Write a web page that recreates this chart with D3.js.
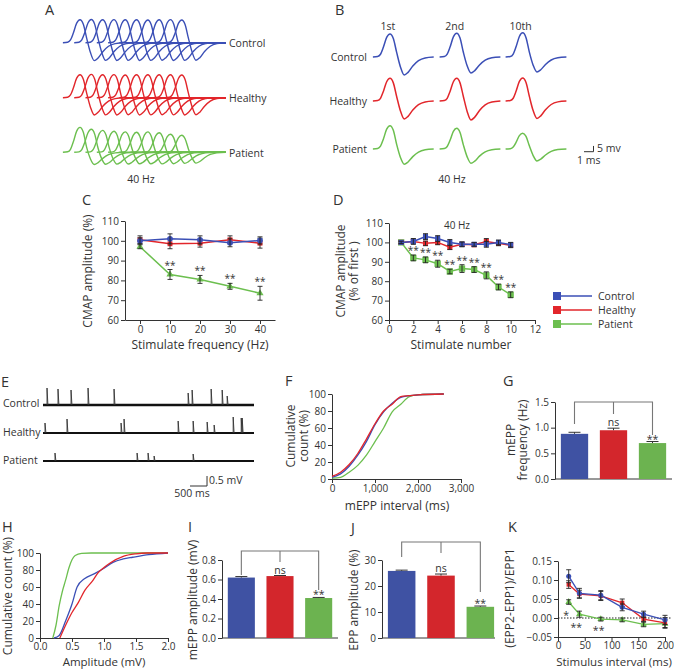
<!DOCTYPE html>
<html><head><meta charset="utf-8">
<script src="https://cdn.jsdelivr.net/npm/d3@7/dist/d3.min.js"></script>
<style>
html,body{margin:0;padding:0;background:#fff}
svg text{font-family:"Open Sans",Arial,sans-serif;fill:#333}
</style></head><body>
<svg id="fig" width="674" height="670" xmlns="http://www.w3.org/2000/svg"></svg>
<script>
// ================= DATA =================
const groups = ["Control","Healthy","Patient"];

// A: peak / trough (mV) of the 10 CMAPs of a 40 Hz train
const aPeakControl   = [20.0,20.2,20.0,20.1,19.9,20.0,19.8,20.0,20.1,19.8];
const aPeakHealthy   = [20.0,20.3,20.0,20.1,19.8,20.0,19.9,20.0,20.0,19.7];
const aPeakPatient   = [21.7,20.0,19.1,18.3,17.8,17.4,17.8,17.0,15.7,14.8];
const aTroughControl = [15.6,15.4,15.5,15.4,15.5,15.4,15.3,15.5,15.4,15.3];
const aTroughHealthy = [15.0,14.9,15.0,14.8,15.0,14.9,14.8,14.9,15.0,14.8];
const aTroughPatient = [10.6,10.4,10.3,10.2,10.0,10.0,10.1,9.9,9.6,9.4];

// B: 1st, 2nd and 10th responses (mV)
const bLabels = ["1st","2nd","10th"];
const bPeakControl   = [20.0,20.6,21.0];
const bPeakHealthy   = [19.7,19.7,20.0];
const bPeakPatient   = [20.3,18.0,13.7];
const bTroughControl = [15.7,13.9,13.0];
const bTroughHealthy = [15.7,16.5,15.2];
const bTroughPatient = [13.3,12.4,10.4];

// CMAP waveform template (time in ms, normalised amplitude)
const cmapT = [-1.8,-1.3,-1.0,-0.7,-0.35,0,0.35,0.7,1.1,1.5,1.9,2.4,3.0,3.7,4.6];
const cmapV = [0,0.02,0.12,0.42,0.85,1,0.8,0.2,-0.55,-1,-0.85,-0.5,-0.2,-0.05,0];

// C: CMAP amplitude vs stimulation frequency
const cFreq = [0,10,20,30,40];
const cControl = [100,101,100.5,99,100.2], cControlErr = [1.5,2.5,2,2,1.8];
const cHealthy = [100.5,98.5,98.8,100.5,98.8], cHealthyErr = [2,2.5,2,2,2.5];
const cPatient = [97,83,80.5,77,73.5], cPatientErr = [1,2.5,2,1.5,3.5];
const cStars = [10,20,30,40];

// D: CMAP amplitude vs stimulus number (40 Hz)
const dNum = [1,2,3,4,5,6,7,8,9,10];
const dControl = [100,100.5,103,102,100,99,99,99,100,98.8];
const dControlErr = [0.6,1.5,1.5,1.5,1.5,1.2,1,1.5,1.2,1.2];
const dHealthy = [100,100.5,99.5,100,97.5,99,98.8,100.5,99.5,98.5];
const dHealthyErr = [0.6,1.2,1.2,1.2,1.2,1.2,1,1.5,1.2,1.2];
const dPatient = [100,92,91,89,85,86.5,86,83,77,73];
const dPatientErr = [0.6,1.5,1.5,1.8,1.2,2,1.5,1.8,1.5,1.5];
const dStars = [2,3,4,5,6,7,8,9,10];

// E: mEPP recordings (spike time ms, amplitude mV)
const eControlT = [118,441,824,1324,2088,4265,4382,4941,5265,5412];
const eControlA = [0.85,0.8,0.75,0.85,0.8,0.6,0.75,0.8,0.75,0.45];
const eHealthyT = [59,706,2294,2382,3971,4412,4824,5029,5588,5824,5853];
const eHealthyA = [0.5,0.7,0.5,0.7,0.6,0.6,0.55,0.4,0.8,0.75,0.75];
const ePatientT = [353,2765,3088,3265,4412];
const ePatientA = [0.4,0.4,0.4,0.25,0.35];

// F: cumulative mEPP interval
const fInterval = [0,200,400,600,800,1000,1200,1400,1600,1800,2000,2600];
const fControl  = [2,6,15,28,44,64,79,89,96,98,99,100];
const fHealthy  = [3,8,17,30,47,65,80,88,97,98,99,100];
const fPatient  = [1,2,8,16,28,44,60,79,88,97,99,100];

// G: mEPP frequency (Hz)
const gMean = [0.88,0.95,0.70], gErr = [0.03,0.04,0.03];
const gSig = ["","ns","**"];

// H: cumulative mEPP amplitude
const hControlX = [0.22,0.3,0.4,0.5,0.58,0.7,0.86,1.0,1.14,1.3,1.45,1.7,2.0];
const hControlY = [0,3,20,40,60,70,76,82,89,93,95,98,100];
const hHealthyX = [0.31,0.4,0.5,0.6,0.7,0.83,0.9,1.0,1.09,1.3,1.5,1.67,2.0];
const hHealthyY = [0,15,30,42,56,68,76,83,88,96,99,100,100];
const hPatientX = [0.2,0.25,0.3,0.35,0.4,0.45,0.5,0.55,0.65,0.8,2.0];
const hPatientY = [0,15,38,55,68,82,92,97,99.5,100,100];

// I: mEPP amplitude (mV)
const iMean = [0.62,0.635,0.41], iErr = [0.01,0.006,0.006];
const iSig = ["","ns","**"];

// J: EPP amplitude (%)
const jMean = [25.8,24.0,12.0], jErr = [0.3,0.6,0.3];
const jSig = ["","ns","**"];

// K: paired-pulse ratio
const kInterval = [20,40,80,120,160,200];
const kControl = [0.11,0.065,0.06,0.028,0.01,-0.005];
const kControlErr = [0.017,0.013,0.012,0.009,0.008,0.012];
const kHealthy = [0.088,0.063,0.058,0.04,-0.003,-0.013];
const kHealthyErr = [0.01,0.01,0.012,0.01,0.006,0.014];
const kPatient = [0.042,0.01,-0.003,-0.005,-0.017,-0.015];
const kPatientErr = [0.006,0.008,0.005,0.005,0.006,0.01];
const kStarText = ["*","**","**"];
const kStarX = [15,34,76];
const kStarY = [0.013,-0.021,-0.027];

// ================= DRAWING =================
const svg = d3.select("#fig");
svg.append("rect").attr("width",674).attr("height",670).attr("fill","#fff");
const FONT = '"Open Sans", Arial, sans-serif';
const INK = "#333";
const col = {Control:"#3b4fb6", Healthy:"#e2262b", Patient:"#6cbf4f"};
const barCol = ["#3f52a3","#d3262c","#6cb350"];

function txt(x,y,s,o={}){
  const t = svg.append("text").attr("x",x).attr("y",y).text(s)
    .attr("font-family",FONT)
    .attr("font-size",o.size||10.5).attr("text-anchor",o.anchor||"start").attr("fill",o.fill||INK);
  if(o.rot) t.attr("transform",`rotate(-90,${x},${y})`);
  return t;
}
function fixAxis(g){
  g.attr("font-family",FONT).attr("font-size",10);
  g.select(".domain").attr("stroke",INK).attr("stroke-width",1);
  g.selectAll(".tick line").attr("stroke",INK);
  g.selectAll(".tick text").attr("fill",INK);
}
function axisL(scale,x,ticks,fmt){
  const g = svg.append("g").attr("transform",`translate(${x},0)`)
    .call(d3.axisLeft(scale).tickValues(ticks).tickFormat(fmt).tickSizeInner(4).tickSizeOuter(0).tickPadding(2));
  fixAxis(g); return g;
}
function axisB(scale,y,ticks,fmt,pad){
  const g = svg.append("g").attr("transform",`translate(0,${y})`)
    .call(d3.axisBottom(scale).tickValues(ticks).tickFormat(fmt).tickSizeInner(4).tickSizeOuter(0).tickPadding(pad===undefined?2:pad));
  fixAxis(g); return g;
}
function errBar(cx,y1,y2,w,color){
  svg.append("path").attr("d",`M${cx},${y1}V${y2}M${cx-w},${y1}H${cx+w}M${cx-w},${y2}H${cx+w}`)
    .attr("stroke",color||"#222").attr("stroke-width",0.9).attr("fill","none");
}
function series(x,y,xs,ys,es,color,sym,size,lw){
  const line = d3.line().x((d,i)=>x(xs[i])).y(d=>y(d));
  svg.append("path").attr("d",line(ys)).attr("fill","none").attr("stroke",color).attr("stroke-width",lw||1.5);
  ys.forEach((v,i)=> svg.append("path").attr("d",d3.symbol(sym,size)())
    .attr("transform",`translate(${x(xs[i])},${y(v)})`).attr("fill",color));
  ys.forEach((v,i)=> errBar(x(xs[i]), y(v-es[i]), y(v+es[i]), 2.5));
}
function stars(x,y,s,size){
  txt(x,y,s,{anchor:"middle",size:size||10});
}

// panel letters
[["A",45,15],["B",335,15],["C",82,205],["D",333,205],["E",1,387],["F",285,386],["G",503,386],
 ["H",2,532],["I",188,532],["J",351,533],["K",508,532]].forEach(d=>txt(d[1],d[2],d[0],{size:14.5}));

// ---------- Panel A & B waveforms ----------
function cmapPath(xs, ys, peakMv, troughMv, xEnd){
  const pts = cmapT.map((t,i)=>{
    const v = cmapV[i];
    return [xs(t), ys(v>=0 ? v*peakMv : v*troughMv)];
  });
  if(xEnd !== undefined && xEnd > pts[pts.length-1][0]+0.5) pts.push([xEnd, ys(0)]);
  return d3.line().curve(d3.curveMonotoneX)(pts);
}
const msPx = 9.5, mvPx = 1.15;
const aBase = {Control:42.7, Healthy:97.7, Patient:152.3};
const aPeaks = {Control:aPeakControl, Healthy:aPeakHealthy, Patient:aPeakPatient};
const aTroughs = {Control:aTroughControl, Healthy:aTroughHealthy, Patient:aTroughPatient};
const aStagger = 1.19; // display stagger (ms) between successive responses
groups.forEach(gname=>{
  const ys = d3.scaleLinear().domain([0,1]).range([aBase[gname], aBase[gname]-mvPx]);
  aPeaks[gname].forEach((pk,i)=>{
    const off = i*aStagger;
    const xs = d3.scaleLinear().domain([0,1]).range([80+off*msPx, 80+(off+1)*msPx]);
    svg.append("path").attr("d",cmapPath(xs,ys,pk,aTroughs[gname][i],226))
      .attr("fill","none").attr("stroke",col[gname]).attr("stroke-width",1.4);
  });
});
txt(229,47,"Control"); txt(229,102,"Healthy"); txt(229,157,"Patient");
txt(141,183,"40 Hz",{anchor:"middle"});

const bBase = {Control:57, Healthy:101, Patient:149};
const bPeaks = {Control:bPeakControl, Healthy:bPeakHealthy, Patient:bPeakPatient};
const bTroughs = {Control:bTroughControl, Healthy:bTroughHealthy, Patient:bTroughPatient};
const bColX = [390,456.7,522.7];
groups.forEach(gname=>{
  const ys = d3.scaleLinear().domain([0,1]).range([bBase[gname], bBase[gname]-mvPx]);
  bLabels.forEach((lab,j)=>{
    const xs = d3.scaleLinear().domain([0,1]).range([bColX[j], bColX[j]+msPx]);
    svg.append("path").attr("d",cmapPath(xs,ys,bPeaks[gname][j],bTroughs[gname][j]))
      .attr("fill","none").attr("stroke",col[gname]).attr("stroke-width",1.5);
  });
});
bLabels.forEach((lab,j)=>txt(bColX[j]-2,30,lab,{anchor:"middle"}));
txt(367,61,"Control",{anchor:"end"}); txt(367,105,"Healthy",{anchor:"end"}); txt(367,153,"Patient",{anchor:"end"});
txt(452,183,"40 Hz",{anchor:"middle"});
// scale bar 5 mV / 1 ms
svg.append("path").attr("d",`M584,151.7H${584+msPx}V${151.7-5*mvPx}`).attr("fill","none").attr("stroke","#333").attr("stroke-width",1);
txt(597,152,"5 mv"); txt(577,164,"1 ms");

// ---------- Panel C ----------
{
  const x = d3.scaleLinear().domain([-5,45]).range([125,275]);
  const y = d3.scaleLinear().domain([60,110]).range([320,221]);
  axisL(y,125,[60,70,80,90,100,110],d3.format("d"));
  axisB(x,320,cFreq,d3.format("d"));
  series(x,y,cFreq,cPatient,cPatientErr,col.Patient,d3.symbolTriangle,22);
  series(x,y,cFreq,cHealthy,cHealthyErr,col.Healthy,d3.symbolSquare,24);
  series(x,y,cFreq,cControl,cControlErr,col.Control,d3.symbolCircle,26);
  cStars.forEach(f=>{const i=cFreq.indexOf(f); stars(x(f), y(cPatient[i]+cPatientErr[i])-1,"**");});
  txt(92,271,"CMAP amplitude (%)",{rot:true,anchor:"middle",size:12});
  txt(200,349,"Stimulate frequency (Hz)",{anchor:"middle",size:12});
}

// ---------- Panel D ----------
{
  const x = d3.scaleLinear().domain([0,12]).range([389,535]);
  const y = d3.scaleLinear().domain([60,110]).range([320,223]);
  axisL(y,389,[60,70,80,90,100,110],d3.format("d"));
  axisB(x,320,[0,2,4,6,8,10,12],d3.format("d"));
  series(x,y,dNum,dPatient,dPatientErr,col.Patient,d3.symbolSquare,40);
  series(x,y,dNum,dHealthy,dHealthyErr,col.Healthy,d3.symbolSquare,26);
  series(x,y,dNum,dControl,dControlErr,col.Control,d3.symbolSquare,26);
  dStars.forEach(n=>{const i=dNum.indexOf(n); stars(x(n), y(dPatient[i]+dPatientErr[i])-1,"**");});
  txt(457,229,"40 Hz",{anchor:"middle",size:10});
  txt(345,271,"CMAP amplitude",{rot:true,anchor:"middle",size:12});
  txt(358,271,"(% of first )",{rot:true,anchor:"middle",size:12});
  txt(461,349,"Stimulate number",{anchor:"middle",size:12});
  // legend
  groups.forEach((gname,k)=>{
    const ly = 296 + k*14;
    svg.append("line").attr("x1",560).attr("x2",592).attr("y1",ly).attr("y2",ly).attr("stroke",col[gname]).attr("stroke-width",1.5);
    svg.append("rect").attr("x",553).attr("y",ly-4).attr("width",8).attr("height",8).attr("fill",col[gname]);
    txt(598,ly+4,gname);
  });
}

// ---------- Panel E ----------
{
  const x = d3.scaleLinear().domain([0,6200]).range([43,254]);
  const mv = d3.scaleLinear().domain([0,1]).range([0,20]);
  const rows = [[405,eControlT,eControlA,2.4,"Control",407],[433,eHealthyT,eHealthyA,1.8,"Healthy",436],[461,ePatientT,ePatientA,1.8,"Patient",464]];
  rows.forEach(r=>{
    const [base,T,A,w,lab,ty] = r;
    svg.append("path").attr("d",`M${x(0)},${base}H${x(6200)}`).attr("stroke","#111").attr("stroke-width",w).attr("fill","none");
    const d = T.map((t,i)=>`M${x(t)},${base}V${base-mv(A[i])}L${x(t)+0.9},${base}`).join("");
    svg.append("path").attr("d",d).attr("stroke","#333").attr("stroke-width",0.9).attr("fill","none");
    txt(3,ty,lab);
  });
  svg.append("path").attr("d",`M${x(0)+147},486H${x(500)+147}V${486-mv(0.5)}`).attr("fill","none").attr("stroke","#333").attr("stroke-width",1);
  txt(209,484,"0.5 mV"); txt(192,497,"500 ms",{anchor:"middle"});
}

// ---------- Panel F ----------
{
  const x = d3.scaleLinear().domain([0,3000]).range([332,461]);
  const y = d3.scaleLinear().domain([0,100]).range([479,394]);
  axisL(y,332,[0,20,40,60,80,100],d3.format("d"));
  axisB(x,479,[0,1000,2000,3000],d3.format(","));
  const line = d3.line().curve(d3.curveMonotoneX).x((d,i)=>x(fInterval[i])).y(d=>y(d));
  [["Patient",fPatient],["Control",fControl],["Healthy",fHealthy]].forEach(s=>
    svg.append("path").attr("d",line(s[1])).attr("fill","none").attr("stroke",col[s[0]]).attr("stroke-width",1.3));
  txt(295,436,"Cumulative",{rot:true,anchor:"middle",size:12});
  txt(308,436,"count (%)",{rot:true,anchor:"middle",size:12});
  txt(397,510,"mEPP interval (ms)",{anchor:"middle",size:12});
}

// ---------- bar chart helper ----------
function barChart(opt){
  const {x0,x1,xEnd,y,vals,errs,sig,topY,drops} = opt;
  const xb = d3.scaleBand().domain(groups).range([x0,x1]).paddingInner(0.3).paddingOuter(0.15);
  axisL(y,x0,opt.ticks,opt.fmt);
  svg.append("line").attr("x1",x0).attr("x2",xEnd).attr("y1",y.range()[0]).attr("y2",y.range()[0]).attr("stroke",INK);
  groups.forEach((g,i)=>{
    svg.append("rect").attr("x",xb(g)).attr("width",xb.bandwidth()).attr("y",y(vals[i])).attr("height",y(0)-y(vals[i])).attr("fill",barCol[i]);
    const cx = xb(g)+xb.bandwidth()/2;
    svg.append("path").attr("d",`M${cx},${y(vals[i])}V${y(vals[i]+errs[i])}M${cx-6},${y(vals[i]+errs[i])}H${cx+6}`).attr("stroke","#333").attr("stroke-width",1).attr("fill","none");
    if(sig[i]) txt(cx, y(vals[i]+errs[i]) - (sig[i]==="ns"?2:-1), sig[i], {anchor:"middle",size:10.5});
  });
  const c = groups.map(g=>xb(g)+xb.bandwidth()/2);
  svg.append("path").attr("d",`M${c[0]},${drops[0]}V${topY}H${c[2]}V${drops[2]}M${c[1]},${topY}V${drops[1]}`)
    .attr("fill","none").attr("stroke","#777").attr("stroke-width",1.1);
}

// ---------- Panel G ----------
{
  const y = d3.scaleLinear().domain([0,1.5]).range([479,402]);
  barChart({x0:555,x1:672,xEnd:672,y,vals:gMean,errs:gErr,sig:gSig,ticks:[0,0.5,1,1.5],fmt:d3.format(".1f"),
    topY:402,drops:[424,414,435]});
  txt(515,440,"mEPP",{rot:true,anchor:"middle",size:12});
  txt(527,440,"frequency (Hz)",{rot:true,anchor:"middle",size:12});
}

// ---------- Panel H ----------
{
  const x = d3.scaleLinear().domain([0,2]).range([40,168]);
  const y = d3.scaleLinear().domain([0,100]).range([638,553]);
  axisL(y,40,[0,20,40,60,80,100],d3.format("d"));
  axisB(x,638,[0,0.5,1,1.5,2],d3.format(".1f"),1);
  const mk = (xs,ys,c)=>svg.append("path").attr("d",d3.line().curve(d3.curveMonotoneX).x((d,i)=>x(xs[i])).y(d=>y(d))(ys))
      .attr("fill","none").attr("stroke",c).attr("stroke-width",1.3);
  mk(hPatientX,hPatientY,col.Patient);
  mk(hControlX,hControlY,col.Control);
  mk(hHealthyX,hHealthyY,col.Healthy);
  txt(12,596,"Cumulative count (%)",{rot:true,anchor:"middle",size:12});
  txt(104,666,"Amplitude (mV)",{anchor:"middle",size:11.5});
}

// ---------- Panel I ----------
{
  const y = d3.scaleLinear().domain([0,0.8]).range([638,560]);
  barChart({x0:222,x1:338,xEnd:338,y,vals:iMean,errs:iErr,sig:iSig,ticks:[0,0.2,0.4,0.6,0.8],fmt:d3.format(".1f"),
    topY:551,drops:[575,562,590]});
  txt(197,600,"mEPP amplitude (mV)",{rot:true,anchor:"middle",size:12});
}

// ---------- Panel J ----------
{
  const y = d3.scaleLinear().domain([0,30]).range([638,560]);
  barChart({x0:382,x1:500,xEnd:495,y,vals:jMean,errs:jErr,sig:jSig,ticks:[0,10,20,30],fmt:d3.format("d"),
    topY:542,drops:[557,553,592]});
  txt(358,600,"EPP amplitude (%)",{rot:true,anchor:"middle",size:12});
}

// ---------- Panel K ----------
{
  const x = d3.scaleLinear().domain([0,200]).range([558,665]);
  const y = d3.scaleLinear().domain([-0.05,0.15]).range([637,561]);
  axisL(y,558,[-0.05,0,0.05,0.1,0.15],d3.format(".2f"));
  axisB(x,637,[0,50,100,150,200],d3.format("d"),1);
  svg.append("line").attr("x1",x(0)).attr("x2",672).attr("y1",y(0)).attr("y2",y(0))
    .attr("stroke","#222").attr("stroke-width",1).attr("stroke-dasharray","1.5,1.5");
  series(x,y,kInterval,kPatient,kPatientErr,col.Patient,d3.symbolTriangle,20,1.3);
  series(x,y,kInterval,kHealthy,kHealthyErr,col.Healthy,d3.symbolSquare,18,1.3);
  series(x,y,kInterval,kControl,kControlErr,col.Control,d3.symbolCircle,20,1.3);
  kStarText.forEach((s,i)=>stars(x(kStarX[i]), y(kStarY[i])+5.5, s, 10.5));
  txt(514,598,"(EPP2-EPP1)/EPP1",{rot:true,anchor:"middle",size:12});
  txt(614,666,"Stimulus interval (ms)",{anchor:"middle",size:11.5});
}
</script>
</body></html>
